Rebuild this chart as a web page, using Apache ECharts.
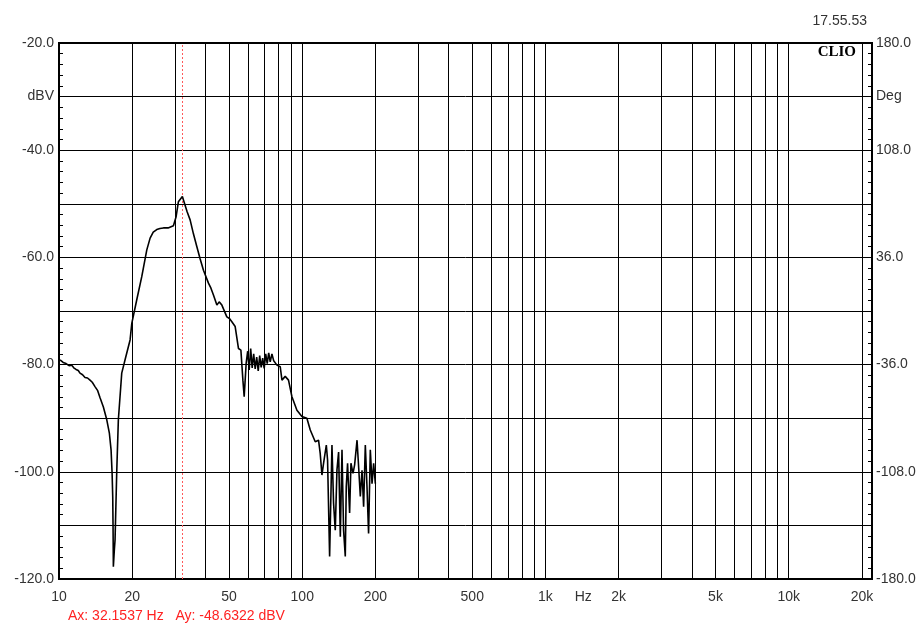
<!DOCTYPE html>
<html>
<head>
<meta charset="utf-8">
<script src="https://cdn.jsdelivr.net/npm/echarts@6/dist/echarts.min.js"></script>
<style>
  html, body { margin: 0; padding: 0; background: #fff; }
  #chart { width: 924px; height: 627px; }
</style>
</head>
<body>
<div id="chart"></div>
<script>
// Measured response: frequency (Hz) and level (dBV)
const freqHz = [
  10.1, 10.4, 10.69, 11.0, 11.28, 11.5, 11.75, 12.0, 12.2, 12.5, 12.79, 13.1, 13.41, 13.7, 14.06, 14.4,
  14.75, 15.22, 15.72, 16.11, 16.37, 16.53, 16.63, 16.68, 16.73, 16.89, 17.0, 17.28, 17.54, 18.11,
  18.69, 19.6, 19.92, 20.88, 21.89, 22.96, 23.69, 24.4, 25.23, 26.0, 26.87, 28.09, 29.54, 30.3,
  30.97, 32.1537, 32.68, 33.63, 34.6, 35.7, 36.88, 38.0, 39.26, 41.16, 42.1, 43.15, 44.57, 45.55,
  46.73, 48.98, 50.2, 51.36, 53.0, 54.69, 55.95, 57.02, 57.72, 58.82, 59.67, 60.52, 61.38, 62.26,
  63.15, 64.06, 64.98, 65.92, 66.85, 67.8, 68.77, 69.76, 70.76, 71.78, 72.8, 73.85, 75.05, 76.34,
  78.69, 81.2, 82.53, 85.11, 87.81, 90.71, 95.1, 99.7, 104.5, 107.9, 113.1, 116.7, 118.5, 120.5,
  122.4, 125.6, 127.1, 129.6, 132.5, 134.5, 136.7, 138.9, 141.1, 143.4, 145.7, 147.9, 150.3, 151.7,
  153.6, 156.6, 158.6, 161.7, 164.2, 168.0, 170.5, 173.3, 176.1, 178.8, 181.7, 184.6, 187.4, 190.5,
  193.6, 196.6, 199.8
];
const levelDb = [
  -79.1, -79.6, -79.8, -80.2, -80.1, -80.6, -80.9, -81.1, -81.6, -81.9, -82.4, -82.5, -82.9, -83.3, -84.1, -84.8,
  -86.2, -87.9, -90.3, -92.8, -95.9, -100.2, -104.6, -110.2, -117.7, -114.5, -112.7, -99.7, -90.3, -81.6,
  -79.1, -75.4, -72.3, -67.9, -63.6, -58.6, -56.4, -55.3, -54.8, -54.6, -54.5, -54.5, -54.1, -52.4,
  -49.6, -48.6322, -49.0, -51.5, -53.0, -55.6, -58.0, -60.2, -62.4, -64.8, -65.7, -67.0, -68.9, -68.3,
  -68.9, -71.1, -71.4, -72.0, -72.9, -77.0, -77.3, -82.9, -86.0, -79.7, -77.5, -81.0, -77.0, -80.6,
  -78.0, -80.8, -78.6, -81.2, -78.3, -80.5, -78.8, -80.7, -78.0, -79.8, -77.8, -79.5, -78.0, -79.3,
  -80.1, -80.4, -82.9, -82.2, -82.9, -86.0, -88.5, -89.7, -90.0, -92.2, -94.4, -94.1, -96.5, -100.6,
  -98.4, -95.0, -97.8, -115.8, -95.0, -105.8, -110.9, -99.7, -96.3, -112.1, -95.9, -110.9, -115.8, -102.8,
  -98.4, -107.7, -98.4, -100.3, -98.7, -94.1, -99.0, -104.6, -99.7, -106.5, -95.0, -102.8, -111.5, -95.9,
  -102.2, -98.4, -102.2
];

// Frequency axis: vertical grid lines and printed labels
const gridHz = [20, 30, 40, 50, 60, 70, 80, 90,
  100, 200, 300, 400, 500, 600, 700, 800, 900,
  1000, 2000, 3000, 4000, 5000, 6000, 7000, 8000, 9000,
  10000, 20000];
const labelHz = [10, 20, 50, 100, 200, 500, 1000, 1430, 2000, 5000, 10000, 20000];
const labelText = ['10', '20', '50', '100', '200', '500', '1k', 'Hz', '2k', '5k', '10k', '20k'];

// Cursor readout
const cursorHz = 32.1537;
const cursorDb = -48.6322;

const fMin = 10, fMax = 22000;
const labelLog = labelHz.map(Math.log10);
const gridLog = gridHz.map(Math.log10);

const FONT = '"Liberation Sans", Arial, sans-serif';
const TXT = '#333';
const FS = 14;
const chart = echarts.init(document.getElementById('chart'), null, { renderer: 'canvas' });

chart.setOption({
  animation: false,
  backgroundColor: '#fff',
  title: {
    text: '17.55.53',
    right: 52, top: 9,
    textStyle: { fontFamily: FONT, fontSize: FS, fontWeight: 'normal', color: TXT }
  },
  grid: {
    left: 59, right: 52, top: 43, bottom: 48,
    show: true, borderColor: '#000', borderWidth: 2, backgroundColor: 'transparent'
  },
  xAxis: [
    {
      type: 'log', logBase: 10, min: fMin, max: fMax, show: false
    },
    {
      // same span in log10 units, used for the grid lines and labels
      type: 'value', min: Math.log10(fMin), max: Math.log10(fMax), position: 'bottom',
      axisLine: { show: false },
      axisTick: { show: false, customValues: gridLog },
      splitLine: { show: true, lineStyle: { color: '#000', width: 1 } },
      axisLabel: {
        customValues: labelLog, margin: 11,
        fontFamily: FONT, fontSize: FS, color: TXT,
        formatter: v => {
          const i = labelLog.findIndex(l => Math.abs(l - v) < 1e-6);
          return i >= 0 ? labelText[i] : '';
        }
      }
    }
  ],
  yAxis: [
    {
      type: 'value', min: -120, max: -20, interval: 10, position: 'left',
      axisLine: { show: false },
      axisTick: { show: true, inside: true, length: 4, lineStyle: { color: '#000' } },
      minorTick: { show: true, splitNumber: 5, length: 4, lineStyle: { color: '#000' } },
      splitLine: { show: true, lineStyle: { color: '#000', width: 1 } },
      axisLabel: {
        margin: 5, fontFamily: FONT, fontSize: FS, color: TXT,
        formatter: v => v === -30 ? 'dBV' : (v % 20 === 0 ? v.toFixed(1) : '')
      }
    },
    {
      type: 'value', min: -180, max: 180, interval: 36, position: 'right',
      axisLine: { show: false },
      axisTick: { show: true, inside: true, length: 4, lineStyle: { color: '#000' } },
      minorTick: { show: true, splitNumber: 5, length: 4, lineStyle: { color: '#000' } },
      splitLine: { show: false },
      axisLabel: {
        margin: 4, fontFamily: FONT, fontSize: FS, color: TXT,
        formatter: v => v === 144 ? 'Deg' : ((v + 180) % 72 === 0 ? v.toFixed(1) : '')
      }
    }
  ],
  graphic: [
    {
      type: 'text', right: 68, top: 45,
      style: { text: 'CLIO', font: 'bold 15px "Liberation Serif", "DejaVu Serif", serif', fill: '#000' }
    },
    {
      type: 'text', left: 68, top: 609,
      style: {
        text: 'Ax: ' + cursorHz.toFixed(4) + ' Hz   Ay: ' + cursorDb.toFixed(4) + ' dBV',
        font: FS + 'px ' + FONT, fill: '#f22'
      }
    }
  ],
  series: [
    {
      type: 'line',
      xAxisIndex: 0, yAxisIndex: 0,
      data: freqHz.map((f, i) => [f, levelDb[i]]),
      showSymbol: false, symbol: 'none',
      lineStyle: { color: '#000', width: 1.6 },
      silent: true,
      markLine: {
        silent: true, symbol: 'none', label: { show: false },
        lineStyle: { color: '#ff5a5a', type: [2, 2], width: 1 },
        data: [{ xAxis: cursorHz }]
      },
      z: 5
    }
  ]
});
</script>
</body>
</html>
